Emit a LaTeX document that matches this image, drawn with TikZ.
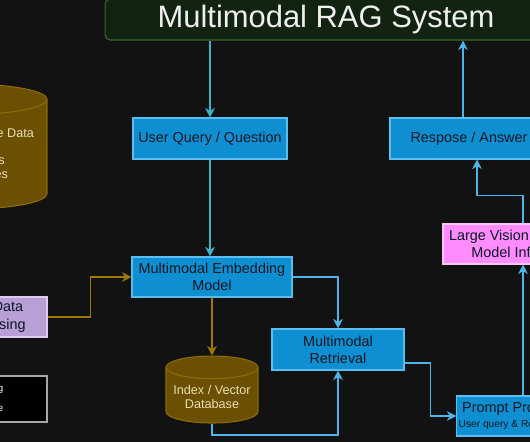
\documentclass[tikz,border=0pt]{standalone}
\usepackage{fontspec}
\setmainfont{Liberation Sans}
\usetikzlibrary{shapes.geometric,arrows.meta,positioning}
\definecolor{bgdark}{HTML}{121212}
\definecolor{titlefill}{HTML}{122312}
\definecolor{titleedge}{HTML}{3A6A2A}
\definecolor{boxblue}{HTML}{0E8FD2}
\definecolor{boxedge}{HTML}{5CBDF0}
\definecolor{boxtext}{HTML}{0A1622}
\definecolor{skyline}{HTML}{4DB5EA}
\definecolor{tealline}{HTML}{3CB4C8}
\definecolor{goldline}{HTML}{A07A00}
\definecolor{dbfill}{HTML}{6A5000}
\definecolor{dbedge}{HTML}{8E6C00}
\definecolor{dbtext}{HTML}{EADDB4}
\definecolor{lavender}{HTML}{B8A0D6}
\definecolor{lavedge}{HTML}{DCCCF0}
\definecolor{pinkbox}{HTML}{FF8CFF}
\definecolor{pinkedge}{HTML}{F4C8F4}

\begin{document}
\begin{tikzpicture}[x=0.02cm, y=0.02cm,
    box/.style={rectangle, draw=boxedge, fill=boxblue, line width=0.6pt,
                minimum width=3.2cm, minimum height=0.8cm, inner sep=1pt,
                text=boxtext, font=\fontsize{8.2}{9.8}\selectfont, align=center},
    titlebox/.style={rectangle, rounded corners=3pt, draw=titleedge, fill=titlefill,
                line width=0.6pt, minimum width=8.84cm, minimum height=0.82cm,
                text=white!94!black, font=\fontsize{17.6}{20}\selectfont},
    dbase/.style={cylinder, shape border rotate=90, draw=dbedge, fill=dbfill,
                line width=0.6pt, inner sep=1pt, text=dbtext,
                font=\fontsize{7.2}{8}\selectfont, align=center},
    flow/.style={-{Stealth[length=1.9mm, width=1.9mm]}, line width=1.1pt, draw=skyline},
    qflow/.style={flow, draw=tealline},
    gflow/.style={flow, draw=goldline}
]
\useasboundingbox (0,0) rectangle (530,442);
\clip (0,0) rectangle (530,442);
\fill[bgdark] (0,0) rectangle (530,442);

% top and query path
\node[titlebox] (title) at (326,422.5) {Multimodal RAG System};
\node[box, minimum width=3.08cm, minimum height=0.82cm] (query) at (210,303.5) {User Query / Question};
\node[box, minimum width=3.16cm, minimum height=0.82cm] (answer) at (469,303.5) {Respose / Answer};
\node[box] (embed) at (212,165) {Multimodal Embedding\\Model};
\node[box, minimum width=2.64cm, minimum height=0.82cm] (retr) at (338,92.5) {Multimodal\\Retrieval};
\node[box, minimum width=2.64cm] (prompt) at (523,26)
    {Prompt Processing\\[-1.5pt]{\fontsize{5.8}{6.4}\selectfont User query \& Retrieved data}};
\node[box, fill=pinkbox, draw=pinkedge] (lvm) at (523,198) {Large Vision Language\\Model Inference};

% data side
\node[dbase, minimum width=1.84cm, minimum height=1.34cm, aspect=0.28] (index) at (212,45) {Index / Vector\\Database};
\node[dbase, minimum width=3.22cm, minimum height=2.5cm, aspect=0.22, font=\fontsize{7.2}{7.7}\selectfont] (source) at (-33.5,286)
    {Multimodal Source Data\\[7.7pt]Texts \& PDFs\\Slides, Images\\[-5pt]\mbox{}};
\node[box, fill=lavender, draw=lavedge, minimum width=2.28cm] (prep) at (-10,125) {Input Data\\Processing};
\node[rectangle, draw=gray!70, fill=black, line width=0.8pt, minimum width=2cm, minimum height=0.92cm] (legend) at (-3,43) {};
\node[anchor=east, text=white, font=\fontsize{5.5}{6}\selectfont, inner sep=0pt] (legidx) at ([xshift=-0.88cm, yshift=0.19cm]legend.east) {Indexing};
\node[anchor=east, text=white, font=\fontsize{5.5}{6}\selectfont, inner sep=0pt] (leginf) at ([xshift=-0.88cm, yshift=-0.19cm]legend.east) {Inference};

% connectors
\draw[qflow] (title.south -| query.north) -- (query.north);
\draw[qflow] (query.south) -- (query.south |- embed.north);
\draw[gflow] (prep.east) -- ++(0.86cm,0) |- (embed.west);
\draw[gflow] (embed.south) -- (index.north);
\draw[flow] (embed.east) -| (retr.north);
\draw[flow] (index.south) -- ++(0,-0.22cm) -| (retr.south);
\draw[flow] ([yshift=-0.27cm]retr.east) -- ++(0.52cm,0) |- (prompt.west);
\draw[flow] (prompt.north) -- (lvm.south);
\draw[flow] (lvm.north) -- ++(0,0.56cm) -| ([xshift=0.16cm]answer.south);
\draw[flow] ([xshift=-0.12cm]answer.north) -- ([xshift=-0.12cm]answer.north |- title.south);
\end{tikzpicture}
\end{document}
